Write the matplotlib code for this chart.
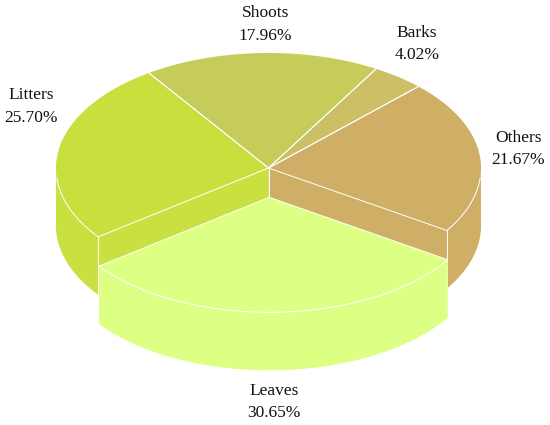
import numpy as np
import matplotlib
matplotlib.use("Agg")
import matplotlib.pyplot as plt
from matplotlib.patches import Polygon

categories = ["Others", "Barks", "Shoots", "Litters", "Leaves"]
values = [21.67, 4.02, 17.96, 25.70, 30.65]
colors = ["#CFAE66", "#CCBF66", "#C5CC5A", "#C8DF3E", "#DDFF84"]
side_colors = ["#CFAE66", "#CCBF66", "#C5CC5A", "#C9E040", "#DDFF84"]

START_DEG = -32.9
CX, CY, RX, RY, DEPTH = 268.5, 168.0, 212.5, 115.0, 58.0
EXPLODE = {"Leaves": (0.8, 29.3)}
EDGE = "#FFFFFF"
LW = 0.7

plt.rcParams["font.family"] = ["Liberation Serif", "DejaVu Serif"]
fig = plt.figure(figsize=(5.5, 4.25), dpi=100)
ax = fig.add_axes([0, 0, 1, 1])
ax.set_xlim(0, 550)
ax.set_ylim(425, 0)
ax.axis("off")


def arc(a0, a1, dx=0.0, dy=0.0):
    t = np.radians(np.linspace(a0, a1, max(int(abs(a1 - a0)) * 2, 2)))
    return np.column_stack([CX + dx + RX * np.cos(t), CY + dy - RY * np.sin(t)])


def wall(a0, a1, color, dx=0.0, dy=0.0, z=1):
    """Outer wall of the visible part (sin < 0) of a slice."""
    top = arc(a0, a1, dx, dy)
    bot = top + [0, DEPTH]
    ax.add_patch(Polygon(np.vstack([top, bot[::-1]]), closed=True, fc=color, ec="none", zorder=z))


def cut(a, color, z=2):
    t = np.radians(a)
    p = np.array([CX + RX * np.cos(t), CY - RY * np.sin(t)])
    c = np.array([CX, CY])
    ax.add_patch(Polygon([c, p, p + [0, DEPTH], c + [0, DEPTH]], closed=True, fc=color, ec="none", zorder=z))
    ax.plot([p[0], p[0]], [p[1], p[1] + DEPTH], color=EDGE, lw=LW, zorder=z + 0.1)


angles = START_DEG + np.concatenate([[0], np.cumsum(values)]) * 3.6
spans = {c: (angles[i], angles[i + 1]) for i, c in enumerate(categories)}

# Walls of the main body
a0, a1 = spans["Others"]
wall(a0, 0, side_colors[0])
a0, a1 = spans["Litters"]
wall(180, a1, side_colors[3])

# Cut faces exposed by the pulled-out slice
cut(spans["Others"][0], side_colors[0])
cut(spans["Litters"][1], side_colors[3])
ax.plot([CX, CX], [CY, CY + DEPTH], color=EDGE, lw=LW, zorder=2.2)

# Top surfaces
for i, c in enumerate(categories):
    if c in EXPLODE:
        continue
    a0, a1 = spans[c]
    pts = np.vstack([[CX, CY], arc(a0, a1)])
    ax.add_patch(Polygon(pts, closed=True, fc=colors[i], ec="none", zorder=3))
for i, c in enumerate(categories):
    if c in EXPLODE:
        continue
    a0, a1 = spans[c]
    e0 = arc(a0, a0)[0]
    e1 = arc(a1, a1)[0]
    ax.plot([CX, e0[0]], [CY, e0[1]], color=EDGE, lw=LW, zorder=3.5)
    ax.plot([CX, e1[0]], [CY, e1[1]], color=EDGE, lw=LW, zorder=3.5)
# Front rim of the body
a = spans["Others"][0]
ax.plot(*arc(a, -5).T, color=EDGE, lw=LW, zorder=3.5)
a = spans["Litters"][1]
ax.plot(*arc(a, 185).T, color=EDGE, lw=LW, zorder=3.5)

# Pulled-out slice
idx = categories.index("Leaves")
dx, dy = EXPLODE["Leaves"]
a0, a1 = spans["Leaves"]
a0 -= 360
a1 -= 360
wall(a0, a1, side_colors[idx], dx, dy, z=5)
rim = arc(a0, a1, dx, dy)
ax.add_patch(Polygon(np.vstack([[CX + dx, CY + dy], rim]), closed=True, fc=colors[idx], ec="none", zorder=6))
ax.plot(*np.vstack([rim, [[CX + dx, CY + dy]], rim[:1]]).T, color=EDGE, lw=LW, zorder=6.5)

# Labels
label_xy = {
    "Shoots": (265.5, 24.5),
    "Barks": (417, 44),
    "Litters": (31, 106.5),
    "Others": (518, 149),
    "Leaves": (274, 402),
}
for c, v in zip(categories, values):
    x, y = label_xy[c]
    ax.text(x, y, f"{c}\n{v:.2f}%", ha="center", va="center", fontsize=12.5, color="#111111",
            linespacing=1.55, zorder=10)

fig.savefig("out.png", dpi=100)
